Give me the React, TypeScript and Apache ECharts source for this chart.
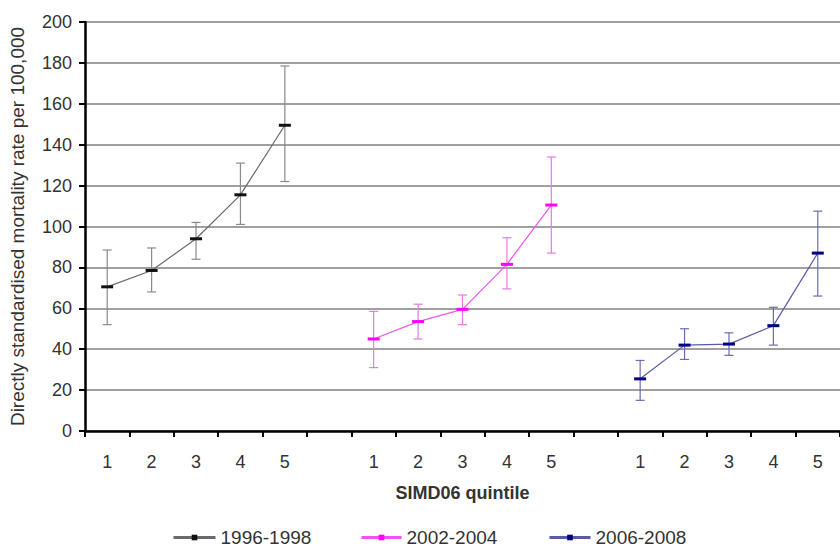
import React, { useEffect, useRef } from "react";
import * as echarts from "echarts";

const categories = ["1", "2", "3", "4", "5", "", "1", "2", "3", "4", "5", "", "1", "2", "3", "4", "5"];
const periods = ["1996-1998", "2002-2004", "2006-2008"];
const groupOffsets = [0, 6, 12];

const rate1996 = [70.5, 78.5, 94, 115.5, 149.5];
const low1996 = [52, 68, 84, 101, 122];
const high1996 = [88.5, 89.5, 102, 131, 178.5];

const rate2002 = [45, 53.5, 59.5, 81.5, 110.5];
const low2002 = [31, 45, 52, 69.5, 87];
const high2002 = [58.5, 62, 66.5, 94.5, 134];

const rate2006 = [25.5, 42, 42.5, 51.5, 87];
const low2006 = [15, 35, 37, 42, 66];
const high2006 = [34.5, 50, 48, 60.5, 107.5];

const yTicks = [0, 20, 40, 60, 80, 100, 120, 140, 160, 180, 200];

const rates = [rate1996, rate2002, rate2006];
const lows = [low1996, low2002, low2006];
const highs = [high1996, high2002, high2006];

const markerColors = ["#111111", "#ff00ff", "#000080"];
const lineColors = ["#6a6a6a", "#ee55ee", "#5a5aa8"];
const barColors = ["#8a8a8a", "#e878e8", "#6a6ab8"];

const FONT = "Liberation Sans, Arial, sans-serif";
const TEXT = "#333333";

export default function App() {
  const ref = useRef<HTMLDivElement>(null);

  useEffect(() => {
    if (!ref.current) return;
    const chart = echarts.init(ref.current, undefined, { renderer: "svg" });

    const lineSeries = periods.map((name, k) => ({
      type: "line",
      name,
      data: categories.map((_, i) => {
        const j = i - groupOffsets[k];
        return j >= 0 && j < 5 ? rates[k][j] : null;
      }),
      symbol: "rect",
      symbolSize: [12, 3],
      showSymbol: true,
      itemStyle: { color: markerColors[k] },
      lineStyle: { color: lineColors[k], width: 1.2 },
      z: 3,
    }));

    const errorSeries = periods.map((name, k) => ({
      type: "custom",
      name: name + " CI",
      data: rates[k].map((_, j) => [groupOffsets[k] + j, lows[k][j], highs[k][j]]),
      encode: { x: 0, y: [1, 2] },
      z: 2,
      renderItem: (params: any, api: any) => {
        const x = api.value(0);
        const lo = api.value(1);
        const hi = api.value(2);
        const pHi = api.coord([x, hi]);
        const pLo = api.coord([x, lo]);
        const half = 4.5;
        const style = { stroke: barColors[k], lineWidth: 1.2 };
        return {
          type: "group",
          children: [
            { type: "line", shape: { x1: pHi[0], y1: pHi[1], x2: pLo[0], y2: pLo[1] }, style },
            { type: "line", shape: { x1: pHi[0] - half, y1: pHi[1], x2: pHi[0] + half, y2: pHi[1] }, style },
            { type: "line", shape: { x1: pLo[0] - half, y1: pLo[1], x2: pLo[0] + half, y2: pLo[1] }, style },
          ],
        };
      },
    }));

    const legendLefts = [172, 360, 548];
    const legendWidths = [42, 40, 41];

    chart.setOption({
      animation: false,
      backgroundColor: "#ffffff",
      textStyle: { fontFamily: FONT },
      grid: { left: 83, top: 22, width: 762, height: 409, containLabel: false },
      legend: periods.map((name, k) => ({
        data: [name],
        left: legendLefts[k],
        top: 528,
        padding: 0,
        itemWidth: legendWidths[k],
        itemHeight: 7,
        selectedMode: false,
        textStyle: { fontFamily: FONT, fontSize: 19, lineHeight: 19, color: TEXT },
        lineStyle: { width: 3 },
      })),
      xAxis: {
        type: "category",
        data: categories,
        boundaryGap: true,
        name: "SIMD06 quintile",
        nameLocation: "middle",
        nameGap: 53,
        nameTextStyle: { fontFamily: FONT, fontSize: 18, fontWeight: "bold", color: TEXT },
        axisLine: { lineStyle: { color: "#000000", width: 2.5 } },
        axisTick: { show: true, interval: 0, length: 6, lineStyle: { color: "#000000", width: 2 } },
        axisLabel: { interval: 0, margin: 22, fontSize: 18, color: TEXT, fontFamily: FONT },
        splitLine: { show: false },
      },
      yAxis: {
        type: "value",
        min: yTicks[0],
        max: yTicks[yTicks.length - 1],
        interval: 20,
        name: "Directly standardised mortality rate per 100,000",
        nameLocation: "middle",
        nameGap: 58,
        nameRotate: 90,
        nameTextStyle: { fontFamily: FONT, fontSize: 19, color: TEXT },
        axisLine: { show: true, lineStyle: { color: "#000000", width: 2.5 } },
        axisTick: { show: true, length: 6, lineStyle: { color: "#000000", width: 2 } },
        axisLabel: { margin: 13, fontSize: 18, color: TEXT, fontFamily: FONT },
        splitLine: { show: true, lineStyle: { color: "#a0a0a0", width: 2 } },
      },
      series: [...errorSeries, ...lineSeries],
    });

    return () => chart.dispose();
  }, []);

  return (
    <div
      ref={ref}
      style={{ position: "absolute", left: 0, top: 0, width: 840, height: 548, background: "#fff" }}
    />
  );
}
